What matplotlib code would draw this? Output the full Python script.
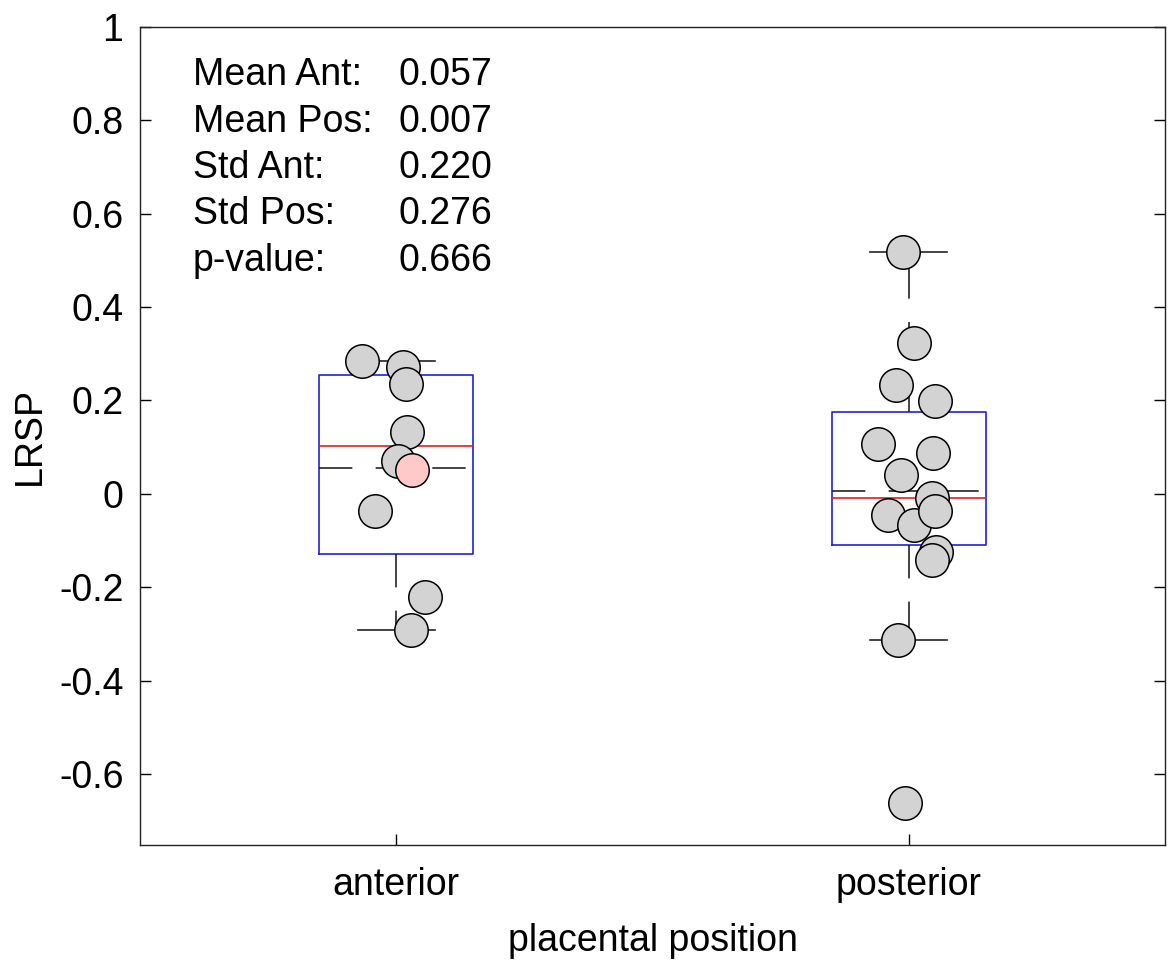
import numpy as np
import matplotlib
matplotlib.use("Agg")
import matplotlib.pyplot as plt

plt.rcParams['font.family'] = ['Liberation Sans', 'DejaVu Sans']

categories = ['anterior', 'posterior']
anterior = [0.285, 0.272, 0.236, 0.133, 0.071, -0.036, -0.221, -0.291]
anterior_x = [0.933, 1.013, 1.019, 1.021, 1.004, 0.959, 1.056, 1.029]
highlight_y = [0.051]
highlight_x = [1.031]
posterior = [0.519, 0.323, 0.233, 0.198, 0.106, 0.088, 0.040, -0.009,
             -0.046, -0.067, -0.037, -0.124, -0.141, -0.314, -0.662]
posterior_x = [1.988, 2.010, 1.976, 2.051, 1.940, 2.047, 1.984, 2.046,
               1.960, 2.011, 2.051, 2.053, 2.045, 1.978, 1.992]
stat_labels = ['Mean Ant:', 'Mean Pos:', 'Std Ant:', 'Std Pos:', 'p-value:']
stat_values = ['0.057', '0.007', '0.220', '0.276', '0.666']
yticks = [-0.6, -0.4, -0.2, 0, 0.2, 0.4, 0.6, 0.8, 1]


def box_stats(d, label):
    d = np.sort(np.asarray(d))
    q1, med, q3 = np.percentile(d, [25, 50, 75], method='hazen')
    iqr = q3 - q1
    lo = d[d >= q1 - 1.5 * iqr].min()
    hi = d[d <= q3 + 1.5 * iqr].max()
    return dict(med=med, q1=q1, q3=q3, whislo=lo, whishi=hi, mean=d.mean(),
                fliers=[], label=label)


fig = plt.figure(figsize=(11.71, 9.6), dpi=100)
ax = fig.add_axes([0.1196, 0.1198, 0.8753, 0.8521])

stats = [box_stats(anterior, categories[0]), box_stats(posterior, categories[1])]
pos = [1, 2]
ax.bxp(stats, positions=pos, widths=0.3, showfliers=False, showmeans=False,
       boxprops=dict(color='#2020e0', linewidth=1.2),
       medianprops=dict(color='#e02020', linewidth=1.2),
       whiskerprops=dict(color='#222222', linewidth=1.2, linestyle=(0, (20, 14))),
       capprops=dict(color='#222222', linewidth=1.2), zorder=2)

# mean line, dashed, across the box
for p, s in zip(pos, stats):
    ax.hlines(s['mean'], p - 0.15, p + 0.15, colors='#222222', linewidth=1.2,
              linestyles=(0, (20, 14)), zorder=2)

ax.scatter(anterior_x, anterior, s=580, facecolor='#d3d3d3', edgecolor='black',
           linewidth=1.1, zorder=3)
ax.scatter(highlight_x, highlight_y, s=580, facecolor='#ffc9c9', edgecolor='black',
           linewidth=1.1, zorder=4)
ax.scatter(posterior_x, posterior, s=580, facecolor='#d3d3d3', edgecolor='black',
           linewidth=1.1, zorder=3)

ax.set_xlim(0.5, 2.5)
ax.set_ylim(-0.752, 1.0)
ax.set_xticks(pos)
ax.set_xticklabels(categories)
ax.set_yticks(yticks)
ax.set_yticklabels(['%g' % v for v in yticks])
ax.tick_params(direction='in', length=8, width=1, labelsize=27, pad=12,
               right=True, top=False)
ax.tick_params(axis='x', pad=16)
for sp in ax.spines.values():
    sp.set_linewidth(1.0)
    sp.set_color('#222222')

ax.set_xlabel('placental position', fontsize=27, labelpad=14)
ax.set_ylabel('LRSP', fontsize=27, labelpad=8)

for i, (lab, val) in enumerate(zip(stat_labels, stat_values)):
    y = 0.941 - i * 0.0567
    ax.text(0.0517, y, lab, transform=ax.transAxes, fontsize=27, va='center', ha='left')
    ax.text(0.2517, y, val, transform=ax.transAxes, fontsize=27, va='center', ha='left')

fig.savefig('out.png', dpi=100)
